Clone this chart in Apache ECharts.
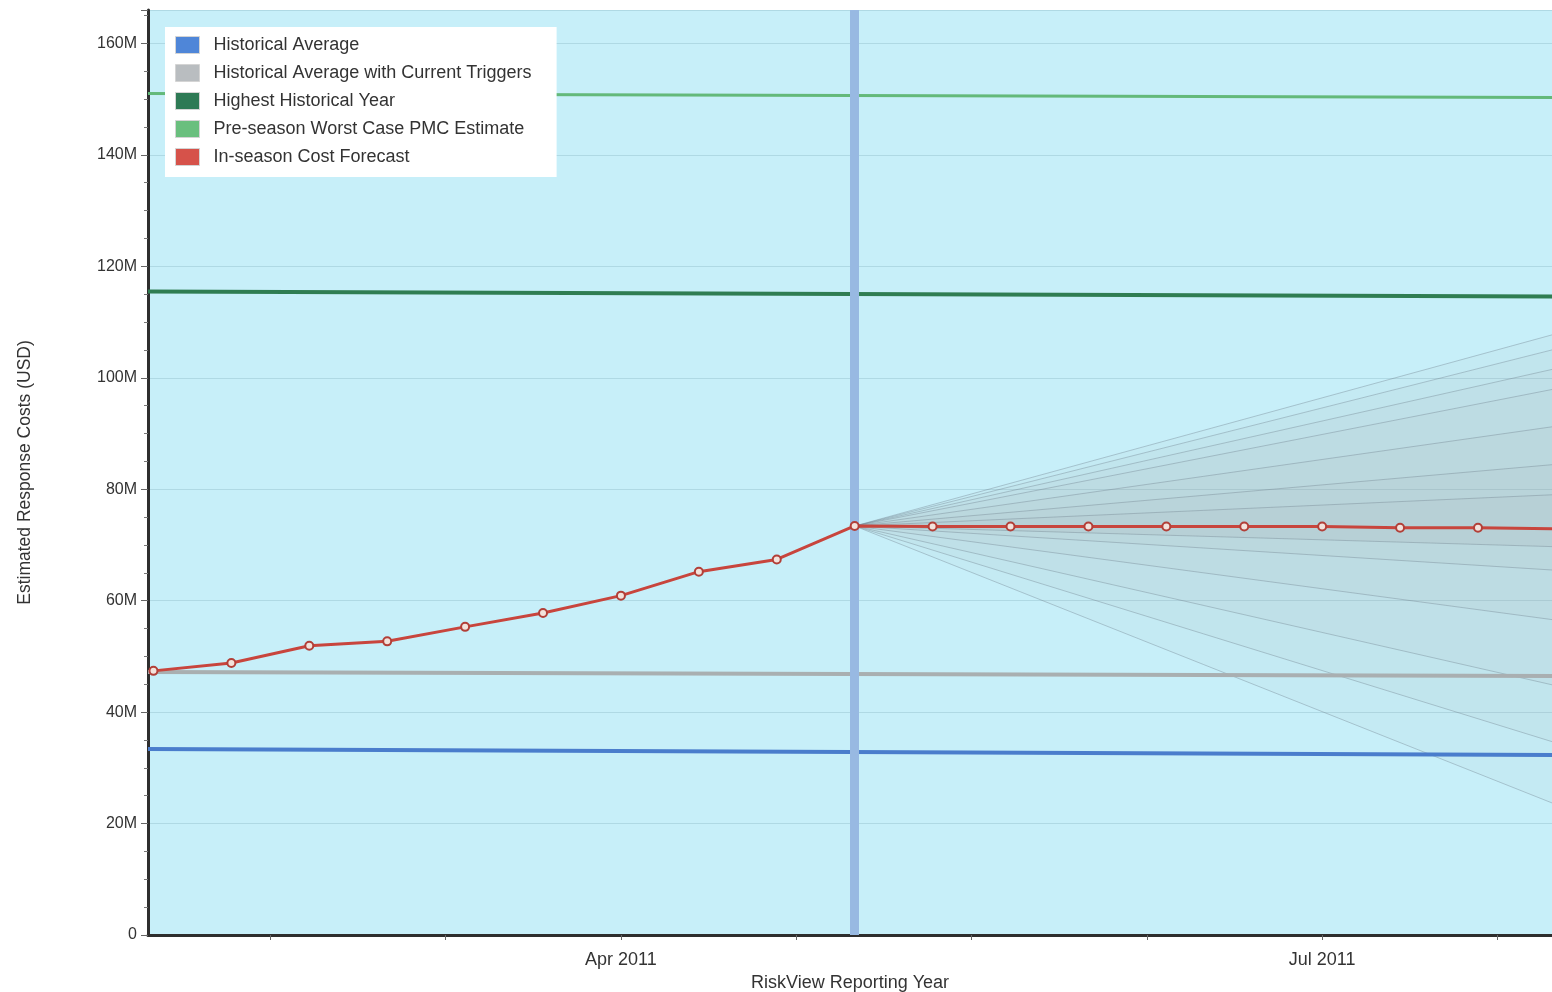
<!DOCTYPE html>
<html>
<head>
<meta charset="utf-8">
<script src="https://cdn.jsdelivr.net/npm/echarts@6/dist/echarts.min.js"></script>
<style>
html,body{margin:0;padding:0;background:#fff;}
#chart{width:1552px;height:992px;}
</style>
</head>
<body>
<div id="chart"></div>
<script>
// ---- data (values in millions USD; x = dekad index, 0 = 1 Feb 2011) ----
const dekadIndex = [0,1,2,3,4,5,6,7,8,9,10,11,12,13,14,15,16,17,18];
const forecastM = [47.4,48.8,51.9,52.7,55.3,57.8,60.9,65.2,67.4,73.4,73.3,73.3,73.3,73.3,73.3,73.3,73.1,73.1,72.9];
const xStart = -0.07;
const xEnd = 17.95;
const historicalAverageM = [33.4, 32.3];
const historicalTriggersM = [47.2, 46.5];
const highestYearM = [115.5, 114.6];
const preseasonWorstM = [151.0, 150.3];
const currentDekad = 9;
const fanOriginM = 73.4;
const fanUpperM = [107.7, 105.0, 101.5, 97.9, 91.2, 84.4, 79.0];
const fanLowerM = [23.7, 34.7, 44.9, 56.6, 65.5, 69.7, 69.7];
const xTickIdx = [1.5, 3.75, 6, 8.25, 10.5, 12.75, 15, 17.25];
const xLabelIdx = [6, 15];
const xLabels = ['Apr 2011', 'Jul 2011'];
const legendNames = ['Historical Average','Historical Average with Current Triggers','Highest Historical Year','Pre-season Worst Case PMC Estimate','In-season Cost Forecast'];

const FONT = 'Liberation Sans';
const colors = {
  avg: '#4a7dcc', trig: '#a9afb1', high: '#2f7d52', pre: '#63b97a', fc: '#c8453d'
};
const legendColors = ['#4f86d8','#b9bdc0','#2e7a55','#6abf7e','#d6524a'];

function flatLine(vals){ return [[xStart, vals[0]], [xEnd, vals[1]]]; }

const series = [];
// fan bands
series.push({
  type: 'custom',
  silent: true,
  z: 1,
  encode: {x: 0, y: [1, 2]},
  data: fanUpperM.map((u, i) => [xEnd, u, fanLowerM[i]]),
  renderItem: function(params, api){
    const p0 = api.coord([currentDekad, fanOriginM]);
    const p1 = api.coord([api.value(0), api.value(1)]);
    const p2 = api.coord([api.value(0), api.value(2)]);
    return {type: 'polygon', shape: {points: [p0, p1, p2]}, style: {fill: 'rgba(172,162,158,0.065)'}};
  }
});
// fan lines
fanUpperM.concat(fanLowerM.slice(0, 6)).forEach(v => {
  series.push({
    type: 'line', silent: true, z: 2, symbol: 'none',
    lineStyle: {color: 'rgba(110,125,140,0.38)', width: 1},
    data: [[currentDekad, fanOriginM], [xEnd, v]]
  });
});
series.push({
  name: legendNames[0], type: 'line', symbol: 'none', z: 3,
  lineStyle: {color: colors.avg, width: 4}, itemStyle: {color: legendColors[0]},
  data: flatLine(historicalAverageM),
  markLine: {
    silent: true, symbol: 'none', label: {show: false},
    lineStyle: {color: '#98b9e2', width: 9, type: 'solid', opacity: 1},
    data: [{xAxis: currentDekad}]
  }
});
series.push({
  name: legendNames[1], type: 'line', symbol: 'none', z: 3,
  lineStyle: {color: colors.trig, width: 4}, itemStyle: {color: legendColors[1]},
  data: flatLine(historicalTriggersM)
});
series.push({
  name: legendNames[2], type: 'line', symbol: 'none', z: 3,
  lineStyle: {color: colors.high, width: 4}, itemStyle: {color: legendColors[2]},
  data: flatLine(highestYearM)
});
series.push({
  name: legendNames[3], type: 'line', symbol: 'none', z: 3,
  lineStyle: {color: colors.pre, width: 3}, itemStyle: {color: legendColors[3]},
  data: flatLine(preseasonWorstM)
});
series.push({
  name: legendNames[4], type: 'line', z: 5,
  symbol: 'circle', symbolSize: 8, showAllSymbol: true,
  lineStyle: {color: colors.fc, width: 3},
  itemStyle: {color: '#f3e2dc', borderColor: '#b23f38', borderWidth: 2},
  data: dekadIndex.map((d, i) => [d, forecastM[i]])
});

const chart = echarts.init(document.getElementById('chart'), null, {renderer: 'canvas'});
chart.setOption({
  animation: false,
  backgroundColor: '#ffffff',
  textStyle: {fontFamily: FONT},
  grid: {left: 148, top: 10, right: 0, bottom: 57, show: true, backgroundColor: '#c7eff9', borderWidth: 0, containLabel: false, outerBoundsMode: 'none'},
  legend: {
    orient: 'vertical', left: 165, top: 27,
    backgroundColor: '#ffffff',
    padding: [9, 25, 11, 10],
    itemWidth: 24, itemHeight: 17, itemGap: 10,
    icon: 'rect',
    textStyle: {fontFamily: FONT, fontSize: 18, lineHeight: 17, color: '#333', padding: [0, 0, 0, 9]},
    data: legendNames.map((n, i) => ({name: n, icon: 'rect', itemStyle: {color: legendColors[i], borderColor: '#d4d4d4', borderWidth: 1}}))
  },
  xAxis: {
    type: 'value', min: xStart, max: xEnd,
    name: 'RiskView Reporting Year', nameLocation: 'middle', nameGap: 39,
    nameTextStyle: {fontFamily: FONT, fontSize: 18, color: '#333'},
    axisLine: {show: true, onZero: false, lineStyle: {color: '#2e2e2e', width: 3}},
    axisTick: {show: true, customValues: xTickIdx, length: 5, lineStyle: {color: '#666', width: 1}},
    axisLabel: {
      customValues: xLabelIdx, margin: 16, fontFamily: FONT, fontSize: 18, color: '#333',
      formatter: v => { const k = xLabelIdx.indexOf(v); return k >= 0 ? xLabels[k] : ''; }
    },
    splitLine: {show: false}
  },
  yAxis: {
    type: 'value', min: 0, max: 166, interval: 20,
    name: 'Estimated Response Costs (USD)', nameLocation: 'middle', nameRotate: 90, nameGap: 114,
    nameTextStyle: {fontFamily: FONT, fontSize: 17.5, color: '#333'},
    axisLine: {show: true, onZero: false, lineStyle: {color: '#2e2e2e', width: 3}},
    axisTick: {show: true, length: 7, lineStyle: {color: '#666', width: 1}},
    minorTick: {show: true, splitNumber: 4, length: 4, lineStyle: {color: '#777', width: 1}},
    axisLabel: {margin: 11, showMaxLabel: false, fontFamily: FONT, fontSize: 16, color: '#333', formatter: v => v === 0 ? '0' : v + 'M'},
    splitLine: {show: true, lineStyle: {color: 'rgba(120,165,178,0.3)', width: 1}}
  },
  series: series
});
</script>
</body>
</html>
